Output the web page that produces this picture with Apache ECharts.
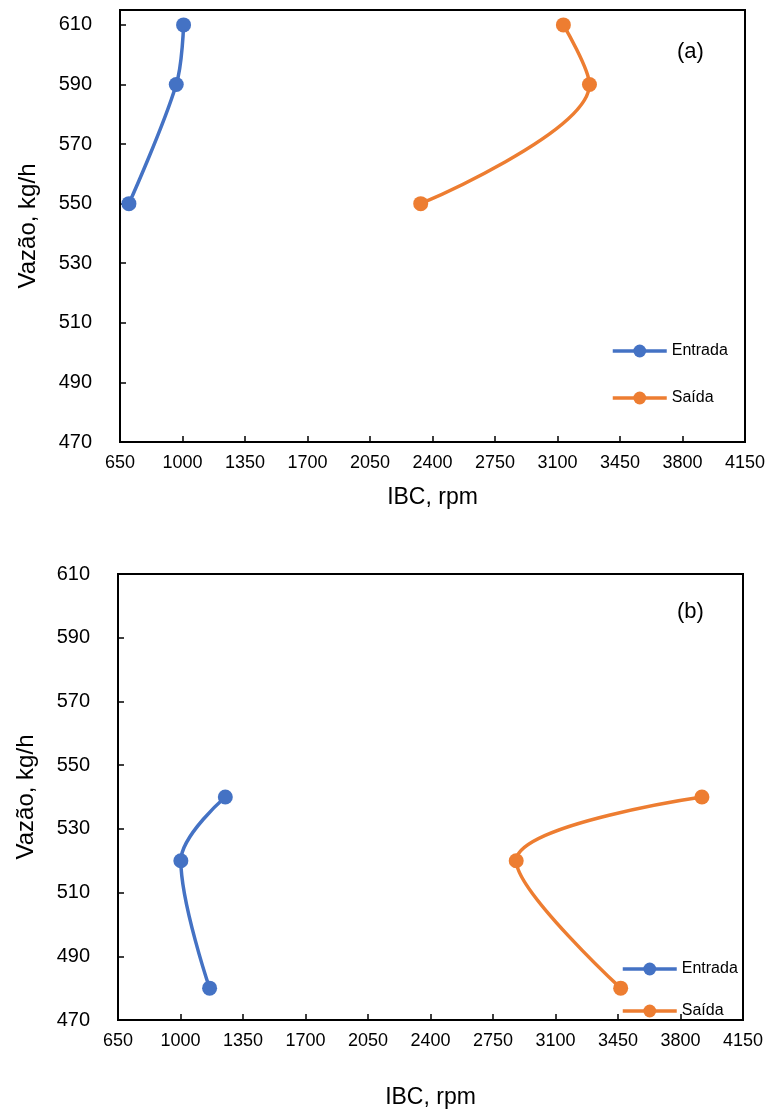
<!DOCTYPE html>
<html>
<head>
<meta charset="utf-8">
<script src="https://cdn.jsdelivr.net/npm/echarts@6/dist/echarts.min.js"></script>
<style>
  html, body { margin: 0; padding: 0; background: #fff; }
  #grafico { width: 771px; height: 1111px; }
</style>
</head>
<body>
<div id="grafico"></div>
<script>
// valores
var vazaoA = [610, 590, 550];
var entradaA = [1006, 965, 700];
var saidaA = [3133, 3279, 2334];

var vazaoB = [540, 520, 480];
var entradaB = [1251, 1002, 1163];
var saidaB = [3920, 2880, 3465];

var ticksX = [650, 1000, 1350, 1700, 2050, 2400, 2750, 3100, 3450, 3800, 4150];

var azul = '#4472C4';
var laranja = '#ED7D31';
var fonte = "'Liberation Sans', Arial, sans-serif";

function pares(xs, ys) {
    return xs.map(function (x, i) { return [x, ys[i]]; });
}

function eixoX(idx, gap) {
    return {
        type: 'value', gridIndex: idx,
        min: ticksX[0], max: ticksX[ticksX.length - 1], interval: 350,
        name: 'IBC, rpm', nameLocation: 'middle', nameGap: gap,
        nameTextStyle: {fontFamily: fonte, fontSize: 23, color: '#000'},
        axisLine: {lineStyle: {color: '#000', width: 2}},
        axisTick: {inside: true, length: 6, lineStyle: {color: '#000', width: 1.5}},
        axisLabel: {margin: 12, fontFamily: "'Liberation Sans Narrow', " + fonte, fontSize: 18, color: '#000',
            formatter: function (v) { return String(v); }},
        splitLine: {show: false}
    };
}

function eixoY(idx, max) {
    return {
        type: 'value', gridIndex: idx,
        min: 470, max: max, interval: 20,
        name: 'Vazão, kg/h', nameLocation: 'middle', nameGap: 80,
        nameTextStyle: {fontFamily: fonte, fontSize: 24, color: '#000'},
        axisLine: {lineStyle: {color: '#000', width: 2}},
        axisTick: {inside: true, length: 6, lineStyle: {color: '#000', width: 1.5}},
        axisLabel: {margin: 28, fontFamily: fonte, fontSize: 20, color: '#000',
            formatter: function (v) { return v <= 610 ? String(v) : ''; }},
        splitLine: {show: false}
    };
}

function serie(nome, cor, idx, xs, ys) {
    return {
        name: nome, type: 'line', xAxisIndex: idx, yAxisIndex: idx,
        data: pares(xs, ys), smooth: 0.35,
        symbol: 'circle', symbolSize: 15,
        lineStyle: {color: cor, width: 3.5},
        itemStyle: {color: cor},
        animation: false
    };
}

var myChart = echarts.init(document.getElementById('grafico'));

var option = {
    backgroundColor: '#fff',
    title: [
        {text: '(a)', left: 672, top: 36, textStyle: {fontFamily: fonte, fontSize: 22, fontWeight: 'normal', color: '#000'}},
        {text: '(b)', left: 672, top: 596, textStyle: {fontFamily: fonte, fontSize: 22, fontWeight: 'normal', color: '#000'}}
    ],
    grid: [
        {left: 120, top: 10, width: 625, height: 432, show: true, borderColor: '#000', borderWidth: 2},
        {left: 118, top: 574, width: 625, height: 446, show: true, borderColor: '#000', borderWidth: 2}
    ],
    legend: [
        {
            data: ['Entrada', 'Saída'], orient: 'vertical', left: 606, top: 338,
            itemWidth: 54, itemHeight: 16, itemGap: 31,
            lineStyle: {width: 3.5},
            textStyle: {fontFamily: fonte, fontSize: 16, color: '#000'}
        },
        {
            data: ['Entrada', 'Saída'], orient: 'vertical', left: 616, top: 956,
            itemWidth: 54, itemHeight: 16, itemGap: 26,
            lineStyle: {width: 3.5},
            textStyle: {fontFamily: fonte, fontSize: 16, color: '#000'}
        }
    ],
    xAxis: [eixoX(0, 44), eixoX(1, 66)],
    yAxis: [eixoY(0, 615), eixoY(1, 610)],
    series: [
        serie('Entrada', azul, 0, entradaA, vazaoA),
        serie('Saída', laranja, 0, saidaA, vazaoA),
        serie('Entrada', azul, 1, entradaB, vazaoB),
        serie('Saída', laranja, 1, saidaB, vazaoB)
    ]
};

myChart.setOption(option);
</script>
</body>
</html>
